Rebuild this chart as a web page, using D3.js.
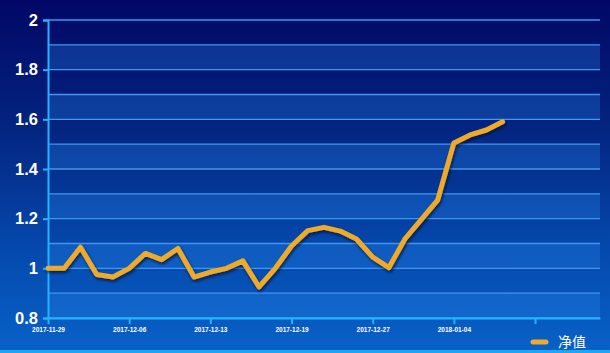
<!DOCTYPE html>
<html>
<head>
<meta charset="utf-8">
<script src="https://cdn.jsdelivr.net/npm/d3@7"></script>
<style>
  body { margin: 0; background: #020866; }
  svg { display: block; }
</style>
</head>
<body>
<div id="chart"></div>
<script>
// net value series, one point per trading day
var values = [1.00, 1.00, 1.085, 0.975, 0.965, 1.00, 1.06, 1.035, 1.08, 0.965,
              0.985, 1.00, 1.03, 0.925, 1.00, 1.09, 1.152, 1.165, 1.15, 1.118,
              1.045, 1.003, 1.12, 1.197, 1.275, 1.505, 1.537, 1.557, 1.59];
var tickIndex = [0, 5, 10, 15, 20, 25, 30];
var tickLabels = ['2017-11-29', '2017-12-06', '2017-12-13', '2017-12-19', '2017-12-27', '2018-01-04', ''];
var yTicks = [0.8, 1, 1.2, 1.4, 1.6, 1.8, 2];
var seriesName = '净值';
var slots = 35; // category slots on the x axis

var w = 610;
var h = 353;
var margin = ({top: 20, right: 10, bottom: 35, left: 48});

var x = d3.scaleLinear()
     .domain([0, slots - 1])
     .range([margin.left, w - margin.right]);

var y = d3.scaleLinear()
     .domain([0.8, 2])
     .range([h - margin.bottom, margin.top]);

var svg = d3.select('#chart')
     .append('svg')
     .attr('width', w)
     .attr('height', h);

var defs = svg.append('defs');
var grad = defs.append('linearGradient')
     .attr('id', 'bg')
     .attr('x1', 0).attr('y1', 0).attr('x2', 0).attr('y2', 1);
grad.append('stop').attr('offset', '0%').attr('stop-color', '#020766');
grad.append('stop').attr('offset', '35%').attr('stop-color', '#03237f');
grad.append('stop').attr('offset', '70%').attr('stop-color', '#0548ac');
grad.append('stop').attr('offset', '100%').attr('stop-color', '#0862c8');

var shadow = defs.append('filter').attr('id', 'shadow')
     .attr('x', '-10%').attr('y', '-10%').attr('width', '120%').attr('height', '130%');
shadow.append('feDropShadow')
     .attr('dx', 1).attr('dy', 2).attr('stdDeviation', 1.5)
     .attr('flood-color', '#000830').attr('flood-opacity', 0.8);

svg.append('rect')
     .attr('width', w).attr('height', h)
     .attr('fill', 'url(#bg)');

// bottom stripe
svg.append('rect')
     .attr('x', 0).attr('y', h - 3)
     .attr('width', w).attr('height', 3)
     .attr('fill', '#1ea6f2');

// alternating bands
var minor = d3.range(0.8, 2.0001, 0.1).map(d => +d.toFixed(1));
svg.append('g')
   .selectAll('rect')
   .data(minor.slice(0, -1).filter((d, i) => i % 2 == 0))
   .enter()
   .append('rect')
   .attr('x', margin.left)
   .attr('y', d => y(d + 0.1))
   .attr('width', w - margin.right - margin.left)
   .attr('height', d => y(d) - y(d + 0.1))
   .attr('fill', '#2a8cf0')
   .attr('fill-opacity', 0.28);

// grid lines
svg.append('g')
   .selectAll('line')
   .data(minor)
   .enter()
   .append('line')
   .attr('x1', margin.left)
   .attr('x2', w - margin.right)
   .attr('y1', d => y(d))
   .attr('y2', d => y(d))
   .attr('stroke', '#3f98ee')
   .attr('stroke-width', 1.3);

yAxis = g => g
     .attr('transform', 'translate(' + margin.left + ',0)')
     .call(d3.axisLeft(y).tickValues(yTicks).tickSize(5).tickPadding(5).tickFormat(d3.format('~g')))
     .call(g => g.selectAll('.domain, line').attr('stroke', '#22b4ff').attr('stroke-width', 2))
     .call(g => g.selectAll('text')
        .attr('fill', '#ffffff')
        .attr('font-family', 'Liberation Sans, Arial, sans-serif')
        .attr('font-weight', 'bold')
        .attr('font-size', 16.5));

xAxis = g => g
     .attr('transform', 'translate(0,' + (h - margin.bottom) + ')')
     .call(d3.axisBottom(x).tickValues(tickIndex).tickSize(6).tickSizeOuter(0).tickPadding(3)
        .tickFormat((d, i) => tickLabels[i]))
     .call(g => g.selectAll('.domain, line').attr('stroke', '#22b4ff').attr('stroke-width', 2))
     .call(g => g.selectAll('text')
        .attr('fill', '#ffffff')
        .attr('font-family', 'Liberation Sans, Arial, sans-serif')
        .attr('font-weight', 'bold')
        .attr('font-size', 6.5));

svg.append('g').call(xAxis);
svg.append('g').call(yAxis);

var line = d3.line()
     .x((d, i) => x(i))
     .y(d => y(d));

svg.append('path')
   .datum(values)
   .attr('d', line)
   .attr('fill', 'none')
   .attr('stroke', '#eeaa2c')
   .attr('stroke-width', 5)
   .attr('stroke-linejoin', 'round')
   .attr('stroke-linecap', 'round')
   .attr('filter', 'url(#shadow)');

// legend
var legend = svg.append('g').attr('transform', 'translate(533,342)');
legend.append('line')
   .attr('x1', 0).attr('x2', 13)
   .attr('stroke', '#eeaa2c')
   .attr('stroke-width', 5)
   .attr('stroke-linecap', 'round');
legend.append('text')
   .attr('x', 25).attr('y', 5)
   .attr('fill', '#ffffff')
   .attr('font-family', 'Noto Sans CJK SC, sans-serif')
   .attr('font-size', 14)
   .text(seriesName);
</script>
</body>
</html>
